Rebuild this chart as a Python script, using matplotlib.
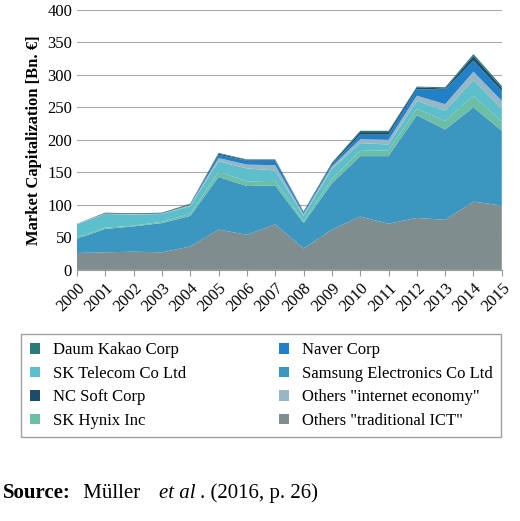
import matplotlib
matplotlib.use("Agg")
import matplotlib.pyplot as plt
import numpy as np

plt.rcParams['font.family'] = ['Liberation Serif', 'DejaVu Serif']

years = list(range(2000, 2016))
trad = [26,27,28,27,36,62,54,70,33,62,82,71,80,77,105,99]
samsung = [22,36,39,45,47,81,75,60,39,71,93,104,158,139,145,115]
hynix = [2,2,1,2,3,8,7,7,3,7,8,9,10,13,18,14]
sktel = [20,21,17,12,12,16,20,16,8,15,12,9,12,16,24,20]
oth_int = [1,1,1,1,2,5,6,8,3,4,6,7,8,10,13,12]
naver = [0,0,0,0,0,5,6,7,2,3,7,8,10,22,17,15]
ncsoft = [0,1,1,1,1,2,1,1,1,2,4,4,3,2,7,5]
daum = [0,0,0,0,1,1,1,1,1,1,2,2,1,2,3,3]

series = [trad, samsung, hynix, sktel, oth_int, naver, ncsoft, daum]
names = ['Others "traditional ICT"', 'Samsung Electronics Co Ltd', 'SK Hynix Inc',
         'SK Telecom Co Ltd', 'Others "internet economy"', 'Naver Corp',
         'NC Soft Corp', 'Daum Kakao Corp']
colors = ['#808d8f', '#3b97c0', '#6cbfa4', '#5cbfcb', '#98b7c5', '#2180c8', '#1c4d68', '#2b7a7a']

fig = plt.figure(figsize=(5.2, 5.21), dpi=100)
ax = fig.add_axes([0.148, 0.482, 0.817, 0.499])
polys = ax.stackplot(years, *series, colors=colors, labels=names)
ax.set_xlim(2000, 2015)
ax.set_ylim(0, 400)
ax.set_yticks(range(0, 401, 50))
ax.set_xticks(years)
ax.set_xticklabels([str(y) for y in years], rotation=45, ha='right', rotation_mode='anchor', fontsize=12)
ax.tick_params(axis='y', labelsize=12, length=0)
ax.tick_params(axis='x', length=4, color='#999999')
ax.grid(axis='y', color='#aaaaaa', linewidth=0.8)
ax.set_axisbelow(True)
for s in ['top', 'right', 'left']:
    ax.spines[s].set_visible(False)
ax.spines['bottom'].set_color('#999999')
ax.set_ylabel('Market Capitalization [Bn. €]', fontsize=12, fontweight='bold')

order = [7, 3, 6, 2, 5, 1, 4, 0]
h = [polys[i] for i in order]
l = [names[i] for i in order]
fig.legend(h, l, loc='lower left', bbox_to_anchor=(0.025, 0.145, 0.955, 0.215), mode='expand',
           ncol=2, fontsize=12, frameon=True, fancybox=False, edgecolor='#888888',
           handlelength=0.6, handleheight=0.6, labelspacing=0.45, borderpad=0.5)

fig.text(0.005, 0.045, r'$\mathbf{Source}$:', fontsize=15, fontweight='bold')
fig.text(0.0, 0.045, '', fontsize=15)
t = fig.text(0.005, 0.045, 'Source:', fontsize=15, fontweight='bold')
fig.texts.remove(fig.texts[0])
fig.texts.remove(fig.texts[0])
fig.text(0.15, 0.045, ' Müller ', fontsize=15)
fig.text(0.305, 0.045, 'et al', fontsize=15, style='italic')
fig.text(0.385, 0.045, '. (2016, p. 26)', fontsize=15)
fig.savefig('out.png', dpi=100)
